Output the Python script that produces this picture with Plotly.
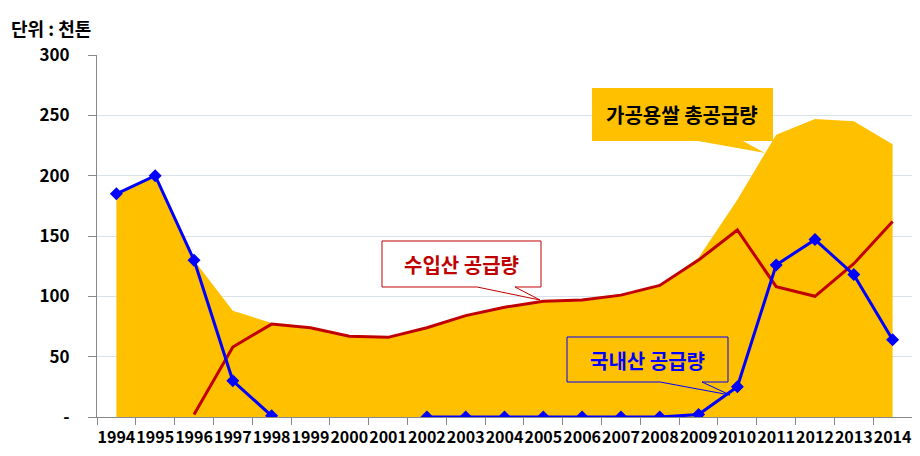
import plotly.graph_objects as go

years = [str(y) for y in range(1994, 2015)]
total_supply = [185, 200, 130, 88, 78, 74, 67, 66, 74, 84, 91, 96, 97, 101, 109, 132, 180, 234, 247, 245, 226]
imported = [None, None, 2, 58, 77, 74, 67, 66, 74, 84, 91, 96, 97, 101, 109, 130, 155, 108, 100, 127, 162]
domestic = [185, 200, 130, 30, 1, None, None, None, 0, 0, 0, 0, 0, 0, 0, 2, 25, 126, 147, 118, 64]
y_tickvals = [0, 50, 100, 150, 200, 250, 300]
y_ticktext = ["-", "50", "100", "150", "200", "250", "300"]

OFF = 8  # page body margin
W, H = 912, 448
ML, MR, MT, MB = 89, 8, 47, 39
PW, PH = W - ML - MR, H - MT - MB

def px(x, y):
    # page pixel coords -> paper coords
    x, y = x - OFF, y - OFF
    return (x - ML) / PW, (H - MB - y) / PH

def callout(x0, y0, x1, y1, tl, tr, tip):
    pts = [(x0, y0), (x1, y0), (x1, y1), (tr, y1), tip, (tl, y1), (x0, y1)]
    s = ""
    for i, (a, b) in enumerate(pts):
        u, v = px(a, b)
        s += ("M" if i == 0 else "L") + f"{u:.5f},{v:.5f} "
    return s + "Z"

KFONT = "Noto Sans CJK KR"

fig = go.Figure()
fig.add_trace(go.Scatter(x=years, y=total_supply, mode="lines", fill="tozeroy",
                         fillcolor="#FFC000", line=dict(width=0, color="#FFC000"),
                         name="가공용쌀 총공급량"))
fig.add_trace(go.Scatter(x=years, y=imported, mode="lines",
                         line=dict(color="#C00000", width=3), name="수입산 공급량"))
fig.add_trace(go.Scatter(x=years, y=domestic, mode="lines+markers",
                         line=dict(color="#0000FF", width=3),
                         marker=dict(symbol="diamond", size=10, color="#0000FF"),
                         connectgaps=False, name="국내산 공급량"))

shapes = [
    dict(type="path", xref="paper", yref="paper", layer="above",
         path=callout(592, 88, 773, 141, 698, 743, (765, 153)),
         fillcolor="#FFC000", line=dict(width=0)),
    dict(type="path", xref="paper", yref="paper", layer="above",
         path=callout(382, 241, 541, 287, 477, 515, (540, 300)),
         fillcolor="white", line=dict(width=1, color="#C00000")),
    dict(type="path", xref="paper", yref="paper", layer="above",
         path=callout(567, 337, 728, 382, 660, 702, (730, 395)),
         fillcolor="rgba(0,0,0,0)", line=dict(width=1, color="#0000FF")),
]

def ann(text, x, y, color, size=20, xanchor="center"):
    u, v = px(x, y)
    return dict(text=f"<b>{text}</b>", x=u, y=v, xref="paper", yref="paper",
                showarrow=False, xanchor=xanchor, yanchor="middle",
                font=dict(family=KFONT, size=size, color=color))

annotations = [
    ann("가공용쌀 총공급량", 682, 114, "#000000"),
    ann("수입산 공급량", 461, 264, "#C00000"),
    ann("국내산 공급량", 647, 360, "#0000FF"),
    ann("단위 : 천톤", 9, 28, "#000000", size=18, xanchor="left"),
]

fig.update_layout(
    width=W, height=H, margin=dict(l=ML, r=MR, t=MT, b=MB),
    paper_bgcolor="white", plot_bgcolor="white", showlegend=False,
    shapes=shapes, annotations=annotations,
    font=dict(family=KFONT, color="black"),
)
fig.update_xaxes(type="category", tickson="boundaries", ticks="outside", ticklen=7,
                 tickcolor="#888888", showline=True, linecolor="#888888", linewidth=1,
                 showgrid=False, tickangle=0, range=[-0.5, 20.5],
                 ticklabelstandoff=6,
                 tickfont=dict(family=KFONT, size=16, color="black", weight="bold"))
fig.update_yaxes(range=[0, 300], tickvals=y_tickvals, ticktext=y_ticktext,
                 ticks="outside", ticklen=8, tickcolor="#888888",
                 showline=True, linecolor="#888888", linewidth=1,
                 showgrid=True, gridcolor="#D9E2EC", gridwidth=1, zeroline=False,
                 tickfont=dict(family=KFONT, size=17, color="black", weight="bold"),
                 ticklabelstandoff=15)

fig.write_html("out.html")
